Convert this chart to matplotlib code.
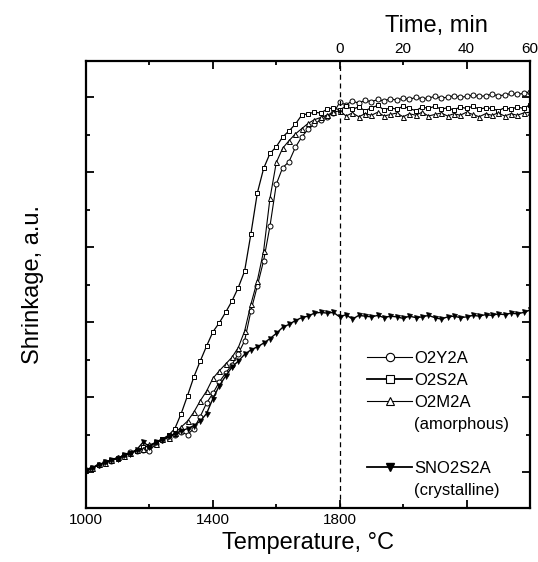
import numpy as np
import matplotlib
matplotlib.use("Agg")
import matplotlib.pyplot as plt
from matplotlib.lines import Line2D

plt.rcParams["font.family"] = ["Liberation Sans", "DejaVu Sans"]

# heating part (deg C) and isothermal hold part (min) at 1800 C
temp_c = np.arange(1000, 1801, 20)
hold_min = np.arange(2, 61, 2)
RATE = 10.0  # deg C per min, used to place the time scale after 1800 C

o2y2a_heat = [0.03, 0.06, 0.09, 0.14, 0.15, 0.19, 0.22, 0.27, 0.28, 0.30, 0.28,
              0.38, 0.43, 0.46, 0.50, 0.53, 0.50, 0.58, 0.74, 0.92, 1.05, 1.20,
              1.32, 1.43, 1.58, 1.75, 2.15, 2.48, 2.82, 3.28, 3.84, 4.06, 4.14,
              4.33, 4.47, 4.57, 4.64, 4.70, 4.74, 4.79, 4.93]
o2y2a_hold = [4.90, 4.95, 4.92, 4.96, 4.94, 4.97, 4.95, 4.98, 4.96, 4.99, 4.97,
              5.00, 4.98, 4.99, 5.01, 4.99, 5.00, 5.02, 5.00, 5.01, 5.03, 5.01,
              5.02, 5.04, 5.02, 5.03, 5.05, 5.04, 5.05, 5.07]

o2s2a_heat = [0.02, 0.05, 0.10, 0.12, 0.16, 0.18, 0.23, 0.26, 0.28, 0.33, 0.35,
              0.40, 0.44, 0.49, 0.58, 0.78, 1.02, 1.27, 1.48, 1.68, 1.87, 1.99,
              2.13, 2.28, 2.46, 2.68, 3.18, 3.72, 4.05, 4.25, 4.34, 4.47, 4.55,
              4.64, 4.76, 4.78, 4.80, 4.79, 4.84, 4.86, 4.83]
o2s2a_hold = [4.88, 4.84, 4.87, 4.82, 4.86, 4.89, 4.83, 4.86, 4.84, 4.88, 4.85,
              4.82, 4.87, 4.85, 4.88, 4.84, 4.86, 4.83, 4.87, 4.85, 4.88, 4.84,
              4.86, 4.85, 4.82, 4.86, 4.84, 4.87, 4.85, 4.90]

o2m2a_heat = [0.04, 0.06, 0.11, 0.12, 0.16, 0.20, 0.21, 0.26, 0.30, 0.31, 0.37,
              0.38, 0.44, 0.46, 0.52, 0.60, 0.68, 0.80, 0.95, 1.08, 1.25, 1.35,
              1.44, 1.53, 1.66, 1.88, 2.24, 2.55, 2.95, 3.65, 4.13, 4.32, 4.42,
              4.51, 4.58, 4.65, 4.70, 4.73, 4.76, 4.80, 4.82]
o2m2a_hold = [4.75, 4.79, 4.74, 4.78, 4.76, 4.80, 4.75, 4.77, 4.79, 4.74, 4.78,
              4.76, 4.80, 4.75, 4.77, 4.79, 4.75, 4.78, 4.76, 4.80, 4.77, 4.74,
              4.78, 4.76, 4.79, 4.75, 4.78, 4.76, 4.79, 4.80]

sno2s2a_heat = [0.02, 0.06, 0.09, 0.13, 0.16, 0.18, 0.23, 0.24, 0.30, 0.40, 0.34,
                0.40, 0.43, 0.48, 0.51, 0.55, 0.58, 0.62, 0.68, 0.78, 0.98, 1.15,
                1.28, 1.40, 1.48, 1.57, 1.63, 1.67, 1.72, 1.78, 1.85, 1.93, 1.97,
                2.02, 2.06, 2.08, 2.12, 2.13, 2.12, 2.13, 2.07]
sno2s2a_hold = [2.10, 2.04, 2.09, 2.08, 2.07, 2.09, 2.06, 2.08, 2.07, 2.05, 2.08,
                2.06, 2.07, 2.09, 2.06, 2.04, 2.07, 2.08, 2.06, 2.07, 2.09, 2.08,
                2.10, 2.09, 2.11, 2.10, 2.12, 2.11, 2.13, 2.16]


def t2x(t):
    return 1800 + np.asarray(t) * RATE


def x2t(x):
    return (np.asarray(x) - 1800) / RATE


x_all = np.concatenate([temp_c, t2x(hold_min)])

fig = plt.figure(figsize=(5.38, 5.62), dpi=100)
ax = fig.add_axes([0.160, 0.096, 0.825, 0.795])

ms = 3.6
ax.plot(x_all, o2y2a_heat + o2y2a_hold, "-o", color="black", lw=0.8, ms=ms,
        mfc="white", mew=0.7)
ax.plot(x_all, o2s2a_heat + o2s2a_hold, "-s", color="black", lw=0.9, ms=ms - 0.4,
        mfc="white", mew=0.7)
ax.plot(x_all, o2m2a_heat + o2m2a_hold, "-^", color="black", lw=0.8, ms=ms,
        mfc="white", mew=0.7)
ax.plot(x_all, sno2s2a_heat + sno2s2a_hold, "-v", color="black", lw=1.0, ms=ms,
        mfc="black", mew=0.5)

ax.axvline(1800, color="black", lw=0.9, ls=(0, (4, 3)))

ax.set_xlim(1000, 2400)
ax.set_ylim(-0.48, 5.48)
ax.set_xticks([1000, 1400, 1800, 2200])
ax.set_xticklabels(["1000", "1400", "1800", ""])
ax.set_xticks([1200, 1600, 2000], minor=True)
ax.set_yticks([0, 1, 2, 3, 4, 5])
ax.set_yticklabels([])
ax.set_yticks([0.5, 1.5, 2.5, 3.5, 4.5], minor=True)
ax.tick_params(which="both", direction="in", top=True, right=True, width=1.3,
               labelsize=11)
ax.tick_params(which="major", length=6)
ax.tick_params(which="minor", length=3)
for s in ax.spines.values():
    s.set_linewidth(1.6)

sec = ax.secondary_xaxis("top", functions=(x2t, t2x))
sec.set_xticks([0, 20, 40, 60])
sec.tick_params(length=0, labelsize=11, pad=4)
sec.spines["top"].set_visible(False)

ax.set_xlabel("Temperature, \u00b0C", fontsize=17, labelpad=4)
ax.set_ylabel("Shrinkage, a.u.", fontsize=17, labelpad=27)
ax.text(2105, 1.055, "Time, min", transform=ax.get_xaxis_transform(),
        fontsize=17, ha="center", va="bottom")

blank = Line2D([], [], linestyle="none")
handles = [
    Line2D([], [], color="black", lw=0.8, marker="o", ms=6, mfc="white", mew=0.8),
    Line2D([], [], color="black", lw=1.3, marker="s", ms=5.5, mfc="white", mew=0.8),
    Line2D([], [], color="black", lw=0.8, marker="^", ms=6, mfc="white", mew=0.8),
    blank, blank,
    Line2D([], [], color="black", lw=1.3, marker="v", ms=6, mfc="black"),
    blank,
]
labels = ["O2Y2A", "O2S2A", "O2M2A", "(amorphous)", " ", "SNO2S2A", "(crystalline)"]
ax.legend(handles, labels, loc="lower right", bbox_to_anchor=(0.975, 0.0),
          frameon=False, fontsize=12, handlelength=2.7, handletextpad=0.1,
          labelspacing=0.42, borderaxespad=0.2)

fig.savefig("out.png", dpi=100)
